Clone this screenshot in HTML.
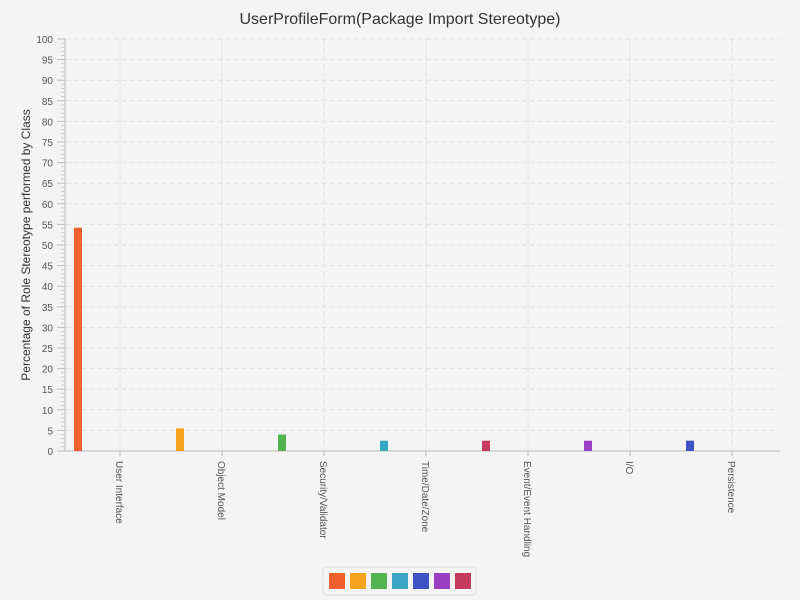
<!DOCTYPE html>
<html><head><meta charset="utf-8"><style>
html,body{margin:0;padding:0;width:800px;height:600px;overflow:hidden;background:#f4f4f4;font-family:"Liberation Sans",sans-serif}
svg{display:block}
</style></head><body>
<svg width="800" height="600" id="c">
<rect width="800" height="600" fill="#f4f4f4"/>
<text x="400" y="24" text-anchor="middle" font-size="16" fill="#333">UserProfileForm(Package Import Stereotype)</text>
<text transform="translate(30,245) rotate(-90)" text-anchor="middle" font-size="12" fill="#333">Percentage of Role Stereotype performed by Class</text>
<g id="grid"></g><g id="axes"></g><g id="bars"></g>
<rect x="323" y="567" width="153" height="28" rx="4" fill="#f4f4f4" stroke="#ddd"/>
<g id="legend"></g>
</svg>
<script>
const categories=["User Interface","Object Model","Security/Validator","Time/Date/Zone","Event/Event Handling","I/O","Persistence"];
const values=[54.2,5.5,4,2.5,2.5,2.5,2.5];
const barColors=["#f0602e","#f7a21d","#52b451","#3aa6c4","#c43b5e","#9a3fc4","#3f54c4"];
const legendColors=["#f0602e","#f7a21d","#52b451","#3aa6c4","#3f54c4","#9a3fc4","#c43b5e"];
const yTicks=[0,5,10,15,20,25,30,35,40,45,50,55,60,65,70,75,80,85,90,95,100];
const NS="http://www.w3.org/2000/svg";
const X0=66,X1=780,Y0=451,Y1=39,step=102;
const y=v=>Y0-(v/100)*(Y0-Y1);
const cx=i=>120+i*step;
function mk(t,a,p){const e=document.createElementNS(NS,t);for(const k in a)e.setAttribute(k,a[k]);document.getElementById(p).appendChild(e);return e;}
yTicks.forEach(v=>{
 if(v>0){const g=mk('line',{x1:X0,x2:X1,y1:y(v),y2:y(v),stroke:'#e2e2e2','stroke-dasharray':'5,3'},'grid');
 
 }
 const t=mk('text',{x:53,y:y(v)+4,'text-anchor':'end','font-size':'10',fill:'#555'},'axes');t.textContent=v;
 
 
 mk('line',{x1:57,x2:65,y1:y(v),y2:y(v),stroke:'#bbb'},'axes');
});
for(let m=0;m<100;m++){if(m%5)mk('line',{x1:61,x2:65,y1:y(m),y2:y(m),stroke:'#ccc'},'axes');}
mk('line',{x1:65,x2:65,y1:Y1,y2:Y0,stroke:'#bbb'},'axes');
mk('line',{x1:65,x2:X1,y1:Y0,y2:Y0,stroke:'#bbb'},'axes');
categories.forEach((c,i)=>{
 const g=mk('line',{x1:cx(i),x2:cx(i),y1:Y1,y2:Y0,stroke:'#e2e2e2','stroke-dasharray':'5,3'},'grid');
 
 
 mk('line',{x1:cx(i),x2:cx(i),y1:Y0,y2:Y0+5,stroke:'#bbb'},'axes');
 const t=mk('text',{transform:`translate(${cx(i)-4},461) rotate(90)`,'font-size':'10',fill:'#555'},'axes');t.textContent=c;
 
 
 const b=mk('rect',{x:cx(i)-46,y:y(values[i]),width:8,height:Y0-y(values[i]),fill:barColors[i]},'bars');
 
 
});
legendColors.forEach((col,i)=>{
 const r=mk('rect',{x:329+i*21,y:573,width:16,height:16,fill:col},'legend');
 
 
});
</script>
</body></html>
